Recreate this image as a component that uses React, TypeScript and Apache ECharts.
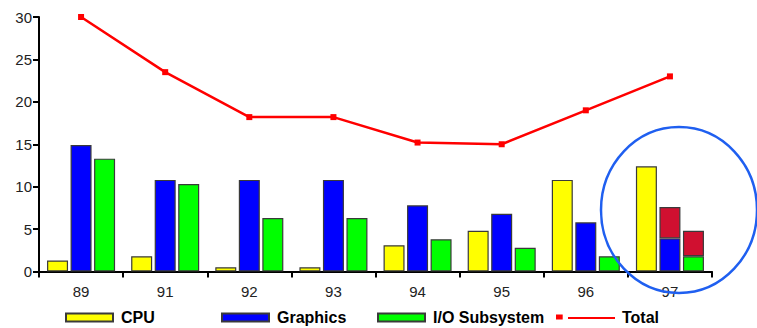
import React, { useEffect, useRef } from "react";
import * as echarts from "echarts";

// Model years on the category axis
const years = ["89", "91", "92", "93", "94", "95", "96", "97"];

// Component values per year
const cpu = [1.3, 1.8, 0.5, 0.5, 3.1, 4.8, 10.8, 12.4];
const graphics = [14.9, 10.8, 10.8, 10.8, 7.8, 6.8, 5.8, 3.9];
const ioSubsystem = [13.3, 10.3, 6.3, 6.3, 3.8, 2.8, 1.8, 1.8];

// Additional share stacked on top of Graphics and I/O in the last year
const graphicsExtra = [null, null, null, null, null, null, null, 3.7];
const ioExtra = [null, null, null, null, null, null, null, 3.0];

// Overall total line
const total = [30, 23.5, 18.2, 18.2, 15.2, 15.0, 19.0, 23.0];

const yTicks = { min: 0, max: 30, interval: 5 };

const FONT = "'Liberation Sans', Arial, Helvetica, sans-serif";
const BORDER = "#3a3a3a";

// Legend icon for the line series: a small square marker followed by a stroke.
// The two tiny corner segments pin the bounding box to 59x8.
const totalIcon =
  "path://M0,0 L0.01,0 Z M0,1 L6.7,1 L6.7,6 L0,6 Z M12,3.4 L59,3.4 L59,5.4 L12,5.4 Z M59,8 L58.99,8 Z";

function legendAt(left: number, name: string, extra: any = {}, textPad = 3) {
  return {
    left,
    top: 309.5,
    padding: 0,
    itemWidth: 47,
    itemHeight: 8,
    itemGap: 8,
    data: [name],
    selectedMode: false,
    textStyle: {
      fontFamily: FONT,
      fontSize: 16,
      fontWeight: "bold",
      color: "#000",
      padding: [0, 0, 0, textPad],
    },
    ...extra,
  };
}

export default function App() {
  const ref = useRef<HTMLDivElement>(null);

  useEffect(() => {
    if (!ref.current) return;
    const chart = echarts.init(ref.current, undefined, { renderer: "svg" });

    const barStyle = (color: string) => ({
      color,
      borderColor: BORDER,
      borderWidth: 1.2,
    });

    chart.setOption({
      animation: false,
      backgroundColor: "#fff",
      grid: { left: 39, right: 45, top: 17, bottom: 56.5 },
      legend: [
        legendAt(65, "CPU", { icon: "rect" }),
        legendAt(221, "Graphics", { icon: "rect" }),
        legendAt(377, "I/O Subsystem", { icon: "rect" }),
        legendAt(
          556,
          "Total",
          {
            icon: totalIcon,
            itemWidth: 59,
            itemGap: 7,
            itemStyle: { color: "#ff0000", borderWidth: 0 },
          },
          2
        ),
      ],
      xAxis: {
        type: "category",
        data: years,
        boundaryGap: true,
        axisLine: { lineStyle: { color: "#000", width: 2 } },
        axisTick: {
          show: true,
          alignWithLabel: false,
          length: 6,
          lineStyle: { color: "#000", width: 2 },
        },
        axisLabel: {
          color: "#222",
          fontFamily: FONT,
          fontSize: 15,
          margin: 12,
        },
        splitLine: { show: false },
      },
      yAxis: {
        type: "value",
        min: yTicks.min,
        max: yTicks.max,
        interval: yTicks.interval,
        axisLine: { show: true, lineStyle: { color: "#000", width: 2 } },
        axisTick: {
          show: true,
          length: 6,
          lineStyle: { color: "#000", width: 2 },
        },
        axisLabel: {
          color: "#222",
          fontFamily: FONT,
          fontSize: 15,
          margin: 7,
        },
        splitLine: { show: false },
      },
      series: [
        {
          name: "CPU",
          type: "bar",
          data: cpu,
          barWidth: 21,
          barGap: "12%",
          barCategoryGap: "17%",
          itemStyle: barStyle("#ffff00"),
        },
        {
          name: "Graphics",
          type: "bar",
          stack: "graphics",
          data: graphics,
          barWidth: 21,
          itemStyle: barStyle("#0000ff"),
        },
        {
          name: "I/O Subsystem",
          type: "bar",
          stack: "io",
          data: ioSubsystem,
          barWidth: 21,
          itemStyle: barStyle("#00ff00"),
        },
        {
          name: "Graphics add-on",
          type: "bar",
          stack: "graphics",
          data: graphicsExtra,
          barWidth: 21,
          itemStyle: barStyle("#d01030"),
        },
        {
          name: "I/O add-on",
          type: "bar",
          stack: "io",
          data: ioExtra,
          barWidth: 21,
          itemStyle: barStyle("#d01030"),
        },
        {
          name: "Total",
          type: "line",
          data: total,
          symbol: "rect",
          symbolSize: 6,
          showSymbol: true,
          lineStyle: { color: "#ff0000", width: 2.5 },
          itemStyle: { color: "#ff0000" },
          z: 5,
        },
      ],
      graphic: [
        {
          type: "ellipse",
          shape: { cx: 679, cy: 210, rx: 78, ry: 83 },
          style: { fill: "none", stroke: "#1f5ff0", lineWidth: 2.5 },
          z: 100,
        },
      ],
    });

    return () => chart.dispose();
  }, []);

  return (
    <div
      ref={ref}
      style={{ position: "fixed", left: 0, top: 0, width: 757, height: 328 }}
    />
  );
}
